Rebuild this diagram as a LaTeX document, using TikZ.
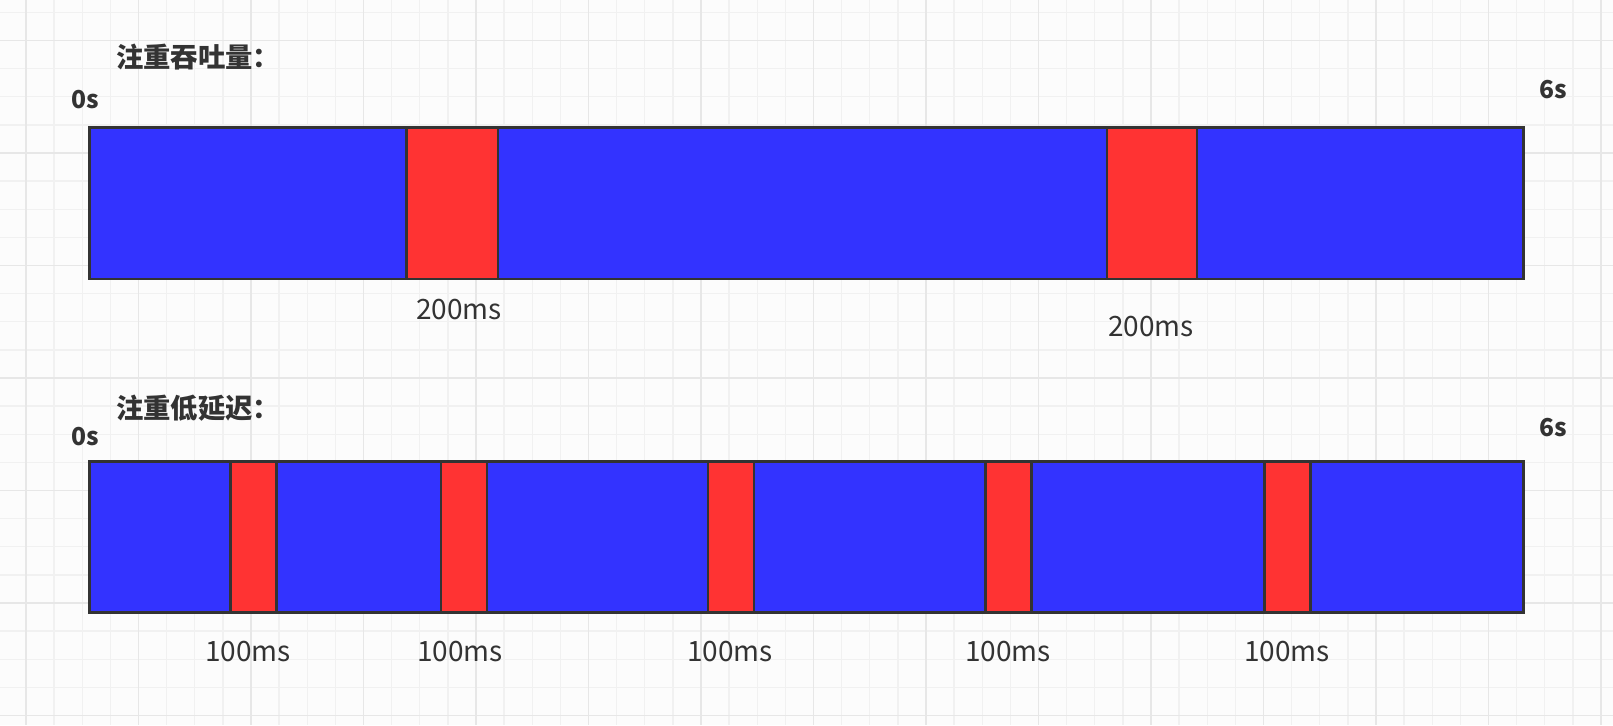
\documentclass[tikz,border=0pt]{standalone}
\usepackage{fontspec}
\setmainfont{Noto Sans CJK SC}
\usepackage{tikz}
\usetikzlibrary{positioning}
\definecolor{runblue}{HTML}{3333FF}
\definecolor{gcred}{HTML}{FF3333}
\definecolor{edge}{HTML}{333333}
\definecolor{gridminor}{HTML}{F1F1F1}
\definecolor{gridmajor}{HTML}{E7E7E7}

\begin{document}
\begin{tikzpicture}[x=0.75pt, y=-0.75pt,
    work/.style={fill=runblue, draw=edge, line width=2.2pt},
    gc/.style={fill=gcred, draw=edge, line width=2.2pt},
    title/.style={anchor=west, font=\bfseries\fontsize{20.5}{24}\selectfont, text=edge, inner sep=0pt},
    tick/.style={font=\bfseries\fontsize{18.5}{22}\selectfont, text=edge, inner sep=0pt},
    dur/.style={font=\fontsize{21}{24}\selectfont, text=edge, inner sep=0pt}]
  \useasboundingbox (0,0) rectangle (1613,725);
  \fill[white!99!black] (0,0) rectangle (1613,725);

  % Background grid
  \foreach \k in {0,...,56} {
    \draw[gridminor, line width=1pt] (26+\k*28.125,0) -- (26+\k*28.125,725);
  }
  \foreach \k in {0,...,25} {
    \draw[gridminor, line width=1pt] (0,12.4+\k*28.125) -- (1613,12.4+\k*28.125);
  }
  \foreach \k in {0,...,14} {
    \draw[gridmajor, line width=1pt] (26+\k*112.5,0) -- (26+\k*112.5,725);
  }
  \foreach \k in {0,...,6} {
    \draw[gridmajor, line width=1pt] (0,40.5+\k*112.5) -- (1613,40.5+\k*112.5);
  }

  % Throughput bar
  \node[title] (tptitle) at (116,57) {注重吞吐量：};
  \node[tick] (tpstart) at (85,100) {0s};
  \node[tick] (tpend) at (1553,90) {6s};
  \draw[work] (89.5,127.5) rectangle (1523.5,279);
  \draw[gc] (406.5,127.5) rectangle (498,279);
  \draw[gc] (1107,127.5) rectangle (1197,279);
  \node[dur] (tpgcA) at (459,310) {200ms};
  \node[dur] (tpgcB) at (1151,327) {200ms};

  % Latency bar
  \node[title] (lttitle) at (116,408) {注重低延迟：};
  \node[tick] (ltstart) at (85,437) {0s};
  \node[tick] (ltend) at (1553,428) {6s};
  \draw[work] (89.5,461.5) rectangle (1523.5,612.5);
  \foreach \x/\c [count=\i] in {230.5/248, 441/460, 708/730, 985.5/1008, 1264.5/1287} {
    \draw[gc] (\x,461.5) rectangle (\x+46,612.5);
    \node[dur] (ltgc\i) at (\c,652) {100ms};
  }
\end{tikzpicture}
\end{document}
